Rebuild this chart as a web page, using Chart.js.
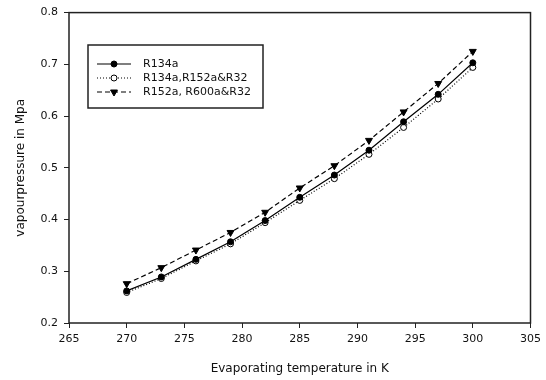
<!DOCTYPE html>
<html>
<head>
<meta charset="utf-8">
<script src="https://cdn.jsdelivr.net/npm/chart.js@4/dist/chart.umd.min.js"></script>
<style>
  html, body { margin: 0; padding: 0; background: #fff; }
  #c { display: block; }
</style>
</head>
<body>
<canvas id="c" width="546" height="380"></canvas>
<script>
// ---- data ----
const temperatures = [270, 273, 276, 279, 282, 285, 288, 291, 294, 297, 300];
const r134a        = [0.262, 0.289, 0.323, 0.357, 0.398, 0.443, 0.486, 0.534, 0.589, 0.642, 0.703];
const r134aMix     = [0.259, 0.286, 0.320, 0.353, 0.394, 0.437, 0.479, 0.526, 0.578, 0.633, 0.694];
const r152aMix     = [0.276, 0.307, 0.341, 0.375, 0.414, 0.461, 0.504, 0.553, 0.608, 0.663, 0.725];
const seriesNames  = ['R134a', 'R134a,R152a&R32', 'R152a, R600a&R32'];
const xTitle = 'Evaporating temperature in K';
const yTitle = 'vapourpressure in Mpa';

const pts = (ys) => temperatures.map((t, i) => ({ x: t, y: ys[i] }));

const FONT = 'DejaVu Sans';
const INK = '#111';

const styles = [
  { dash: [], pointStyle: 'circle', rot: 0, radius: 3, fill: '#000' },
  { dash: [1, 2], pointStyle: 'circle', rot: 0, radius: 3, fill: '#fff' },
  { dash: [5, 3], pointStyle: 'triangle', rot: 180, radius: 4, fill: '#000' }
];

const datasets = [r134a, r134aMix, r152aMix].map((ys, i) => ({
  label: seriesNames[i],
  data: pts(ys),
  showLine: true,
  borderColor: '#000',
  borderWidth: 1.2,
  borderDash: styles[i].dash,
  tension: 0,
  pointStyle: styles[i].pointStyle,
  rotation: styles[i].rot,
  pointRadius: styles[i].radius,
  pointBackgroundColor: styles[i].fill,
  pointBorderColor: '#000',
  pointBorderWidth: 1
}));

function drawMarker(ctx, style, x, y) {
  ctx.save();
  ctx.fillStyle = style.fill;
  ctx.strokeStyle = '#000';
  ctx.lineWidth = 1;
  ctx.setLineDash([]);
  ctx.beginPath();
  if (style.pointStyle === 'circle') {
    ctx.arc(x, y, style.radius, 0, Math.PI * 2);
  } else {
    const r = style.radius;
    ctx.moveTo(x - r * 0.866, y - r * 0.5);
    ctx.lineTo(x + r * 0.866, y - r * 0.5);
    ctx.lineTo(x, y + r);
    ctx.closePath();
  }
  ctx.fill();
  ctx.stroke();
  ctx.restore();
}

const framePlugin = {
  id: 'frame',
  afterDraw(chart) {
    const { ctx, chartArea: a } = chart;
    ctx.save();
    ctx.strokeStyle = '#222';
    ctx.lineWidth = 1.5;
    ctx.strokeRect(a.left, a.top, a.right - a.left, a.bottom - a.top);
    ctx.restore();
  }
};

const legendPlugin = {
  id: 'boxLegend',
  afterDraw(chart) {
    const ctx = chart.ctx;
    const bx = 88, by = 45, bw = 175, bh = 63;
    ctx.save();
    ctx.fillStyle = '#fff';
    ctx.fillRect(bx, by, bw, bh);
    ctx.strokeStyle = '#222';
    ctx.lineWidth = 1.5;
    ctx.strokeRect(bx, by, bw, bh);
    const rows = [64, 78, 92];
    ctx.font = '11px "' + FONT + '"';
    ctx.textBaseline = 'middle';
    ctx.textAlign = 'left';
    seriesNames.forEach((name, i) => {
      const y = rows[i];
      ctx.strokeStyle = '#000';
      ctx.lineWidth = 1.2;
      ctx.setLineDash(styles[i].dash);
      ctx.beginPath();
      ctx.moveTo(97, y);
      ctx.lineTo(131, y);
      ctx.stroke();
      ctx.setLineDash([]);
      drawMarker(ctx, styles[i], 114, y);
      ctx.fillStyle = INK;
      ctx.fillText(name, 143, y);
    });
    ctx.restore();
  }
};

new Chart(document.getElementById('c'), {
  type: 'scatter',
  data: { datasets },
  plugins: [framePlugin, legendPlugin],
  options: {
    responsive: false,
    animation: false,
    devicePixelRatio: 1,
    layout: { padding: { left: 0, top: 7, right: 14, bottom: 0 } },
    plugins: { legend: { display: false }, tooltip: { enabled: false } },
    scales: {
      x: {
        type: 'linear',
        min: 265, max: 305,
        afterFit(s) { s.height = 57; },
        ticks: { stepSize: 5, color: INK, font: { family: FONT, size: 11 }, padding: 5, maxRotation: 0 },
        grid: { drawOnChartArea: false, drawTicks: true, tickLength: 5, color: '#222' },
        border: { display: false },
        title: { display: true, text: xTitle, color: INK, font: { family: FONT, size: 12 }, padding: { top: 0, bottom: 4 } }
      },
      y: {
        type: 'linear',
        min: 0.2, max: 0.8,
        afterFit(s) { s.width = 69; },
        ticks: {
          stepSize: 0.1, color: INK, font: { family: FONT, size: 11 }, padding: 6,
          callback: (v) => Number(v).toFixed(1)
        },
        grid: { drawOnChartArea: false, drawTicks: true, tickLength: 5, color: '#222' },
        border: { display: false },
        title: { display: true, text: yTitle, color: INK, font: { family: FONT, size: 12 }, padding: { top: 14, bottom: 0 } }
      }
    }
  }
});
</script>
</body>
</html>
